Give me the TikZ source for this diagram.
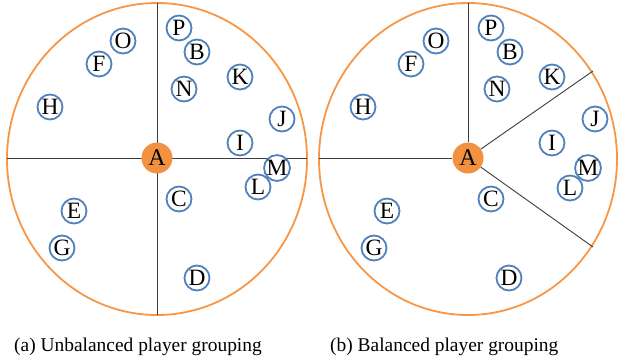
\documentclass[tikz,border=0pt]{standalone}
\usepackage{fontspec}
\setmainfont{Liberation Serif}
\definecolor{ringorange}{RGB}{247,150,70}
\definecolor{hubfill}{RGB}{242,145,64}
\definecolor{playerblue}{RGB}{79,129,189}
\definecolor{divider}{RGB}{60,60,60}
\begin{document}
\begin{tikzpicture}[x=1bp,y=-1bp,
  ring/.style={draw=ringorange,line width=1.8bp},
  divline/.style={draw=divider,line width=0.9bp},
  player/.style={circle,draw=playerblue,line width=1.8bp,fill=white,minimum size=25bp,inner sep=0pt,font=\fontsize{23.5}{23.5}\selectfont},
  hub/.style={circle,fill=hubfill,minimum size=31bp,inner sep=0pt,font=\fontsize{24}{24}\selectfont},
  caption/.style={anchor=base west,inner sep=0pt,font=\fontsize{19.5}{21}\selectfont}]
\useasboundingbox (0,0) rectangle (618,360);
% left panel
\draw[ring] (157,159) ellipse [x radius=150,y radius=156];
\coordinate (aT) at (157,3);
\coordinate (aBt) at (157,315);
\coordinate (aL) at (7,158);
\coordinate (aR) at (307,158);
\draw[divline] (aT) -- (aBt);
\draw[divline] (aL) -- (aR);
\node[hub] (aA) at (157,158) {A};
\node[player] (aP) at (179,28) {P};
\node[player] (aB) at (197,52) {B};
\node[player] (aO) at (123,41) {O};
\node[player] (aF) at (99,64) {F};
\node[player] (aK) at (240,77) {K};
\node[player] (aN) at (184,89) {N};
\node[player] (aH) at (50,107) {H};
\node[player] (aJ) at (282,119) {J};
\node[player] (aI) at (240,143) {I};
\node[player] (aL2) at (258,187) {L};
\node[player] (aM) at (277,168) {M};
\node[player] (aC) at (179,199) {C};
\node[player] (aE) at (74,211) {E};
\node[player] (aG) at (62,248) {G};
\node[player] (aD) at (197,278) {D};
% right panel
\draw[ring] (468,159) ellipse [x radius=149,y radius=156];
\coordinate (bT) at (468,3);
\coordinate (bL) at (319,158);
\coordinate (bU) at (593,71);
\coordinate (bD) at (593,247);
\node[hub] (bA) at (468,158) {A};
\draw[divline] (bA) -- (bT);
\draw[divline] (bA) -- (bL);
\draw[divline] (bA) -- (bU);
\draw[divline] (bA) -- (bD);
\node[player] (bP) at (491,28) {P};
\node[player] (bB) at (510,52) {B};
\node[player] (bO) at (436,41) {O};
\node[player] (bF) at (411,64) {F};
\node[player] (bK) at (552,77) {K};
\node[player] (bN) at (497,89) {N};
\node[player] (bH) at (363,107) {H};
\node[player] (bJ) at (595,119) {J};
\node[player] (bI) at (552,143) {I};
\node[player] (bL2) at (570,188) {L};
\node[player] (bM) at (588,168) {M};
\node[player] (bC) at (491,199) {C};
\node[player] (bE) at (387,211) {E};
\node[player] (bG) at (374,248) {G};
\node[player] (bD2) at (509,278) {D};
% captions
\node[caption] (capa) at (14,351) {(a) Unbalanced player grouping};
\node[caption] (capb) at (330,351) {(b) Balanced player grouping};
\end{tikzpicture}
\end{document}
